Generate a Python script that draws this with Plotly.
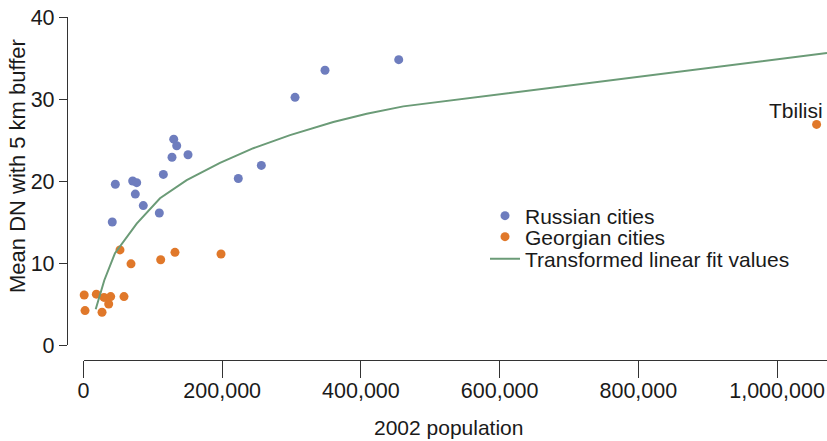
import plotly.graph_objects as go

# ---- data ----
russian_pop = [130100, 134400, 127600, 150700, 115100, 45900, 70900, 76700, 74700,
               86200, 109300, 41500, 223200, 256400, 305000, 348200, 454500]
russian_dn = [25.1, 24.3, 22.9, 23.2, 20.8, 19.6, 20.0, 19.8, 18.4,
              17.0, 16.1, 15.0, 20.3, 21.9, 30.2, 33.5, 34.8]

georgian_pop = [52600, 68500, 111300, 131900, 198300, 1000, 18500, 29600, 39200,
                36300, 58400, 2200, 26700, 1057000]
georgian_dn = [11.6, 9.9, 10.4, 11.3, 11.1, 6.1, 6.2, 5.8, 5.9,
               5.0, 5.9, 4.2, 4.0, 26.9]

fit_pop = [17600, 23800, 30000, 45400, 76700, 110300, 148800, 196800, 244900,
           297800, 360200, 408400, 461100, 1072000]
fit_dn = [4.35, 6.3, 7.9, 11.2, 14.8, 17.9, 20.1, 22.2, 24.0,
          25.6, 27.2, 28.2, 29.1, 35.6]

x_ticks = [0, 200000, 400000, 600000, 800000, 1000000]
y_ticks = [0, 10, 20, 30, 40]

label_city = "Tbilisi"
label_pop = georgian_pop[-1]
label_dn = georgian_dn[-1]

# ---- styling ----
W, H = 827, 441
BLUE = "#6e7dbe"
ORANGE = "#e0782a"
GREEN = "#6b9b77"
TXT = "#1a1a1a"
AX = "#333333"
FONT = "Liberation Sans, Arial, sans-serif"

fig = go.Figure()
fig.add_trace(go.Scatter(x=russian_pop, y=russian_dn, mode="markers",
                         name="Russian cities", legend="legend",
                         marker=dict(color=BLUE, size=9), cliponaxis=False))
fig.add_trace(go.Scatter(x=georgian_pop, y=georgian_dn, mode="markers",
                         name="Georgian cities", legend="legend2",
                         marker=dict(color=ORANGE, size=9), cliponaxis=False))
fig.add_trace(go.Scatter(x=fit_pop, y=fit_dn, mode="lines",
                         name="Transformed linear fit values", legend="legend3",
                         line=dict(color=GREEN, width=2)))

def px_x(p):
    return p / W

def px_y(p):
    return 1 - p / H

leg_common = dict(font=dict(family=FONT, size=21, color=TXT),
                  bgcolor="rgba(0,0,0,0)", xanchor="left", yanchor="middle",
                  x=px_x(485), itemsizing="trace")

fig.update_layout(
    template="none",
    width=W, height=H,
    margin=dict(l=0, r=0, t=0, b=0, autoexpand=False),
    paper_bgcolor="white", plot_bgcolor="white",
    font=dict(family=FONT, color=TXT),
    showlegend=True,
    legend=dict(**leg_common, y=px_y(216)),
    legend2=dict(**leg_common, y=px_y(237)),
    legend3=dict(**leg_common, y=px_y(259)),
    xaxis=dict(domain=[px_x(83.5), 1], range=[0, 1072000], anchor="free",
               position=px_y(360), showline=True, linecolor=AX, linewidth=1.3,
               ticks="outside", ticklen=17, tickcolor=AX, tickwidth=1.3,
               tickvals=x_ticks, tickformat=",d", showgrid=False, zeroline=False,
               automargin=False, ticklabelstandoff=-6,
               tickfont=dict(size=21.5, family=FONT, color=TXT)),
    yaxis=dict(domain=[px_y(345), px_y(17)], range=[0, 40], anchor="free",
               position=px_x(67), showline=True, linecolor=AX, linewidth=1.3,
               ticks="outside", ticklen=8, tickcolor=AX, tickwidth=1.3,
               tickvals=y_ticks, showgrid=False, zeroline=False,
               automargin=False,
               tickfont=dict(size=21.5, family=FONT, color=TXT)),
    annotations=[
        dict(x=label_pop, y=label_dn, xref="x", yref="y", text=label_city,
             showarrow=False, xanchor="right", yanchor="middle",
             xshift=8, yshift=14, font=dict(size=21, family=FONT, color=TXT)),
        dict(x=px_x(17), y=px_y(166), xref="paper", yref="paper",
             text="Mean DN with 5 km buffer", textangle=-90, showarrow=False,
             xanchor="center", yanchor="middle",
             font=dict(size=22, family=FONT, color=TXT)),
        dict(x=px_x(449), y=px_y(427), xref="paper", yref="paper",
             text="2002 population", showarrow=False,
             xanchor="center", yanchor="middle",
             font=dict(size=21, family=FONT, color=TXT)),
    ],
)

fig.write_html("out.html", config={"displayModeBar": False},
               post_script="document.body.style.margin='0px';")
